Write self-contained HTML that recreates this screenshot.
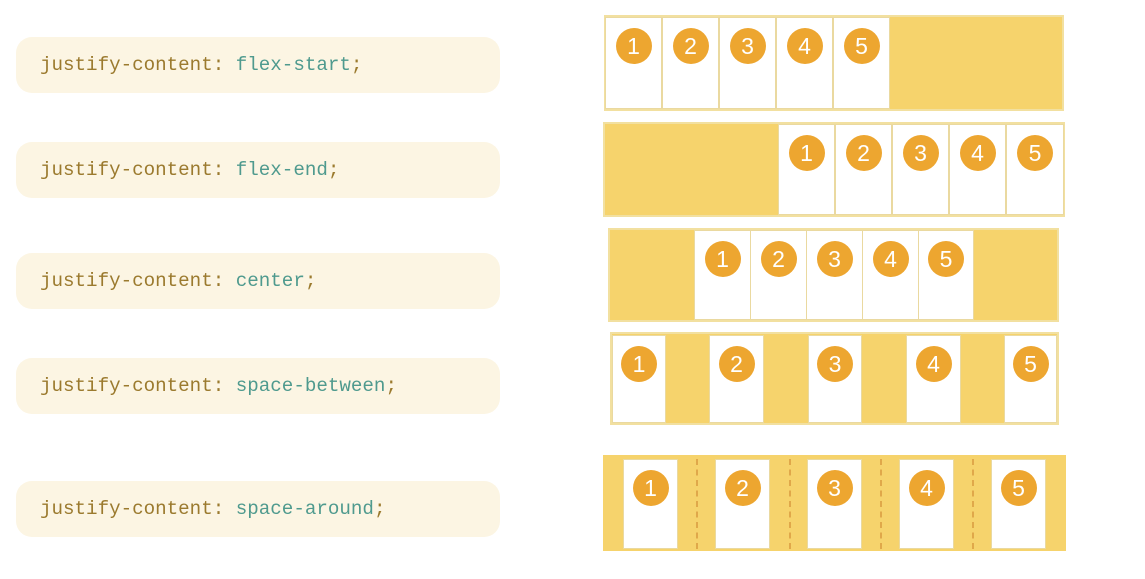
<!DOCTYPE html>
<html><head><style>
body{margin:0;width:1145px;height:579px;background:#fff;position:relative;overflow:hidden;font-family:"Liberation Sans",sans-serif}
.lb{position:absolute;left:16px;width:484px;height:56px;background:#fcf5e3;border-radius:16px}
.lb span{position:absolute;left:24px;top:17px;font-family:"Liberation Mono",monospace;font-size:19.2px;color:#9b7a2e;white-space:pre}
.lb b{font-weight:normal;color:#4f9a8e}
.c{position:absolute;background:#f6d36c;border:2px solid #f2e0a0;box-sizing:border-box}
.i{position:absolute;background:#fff;border:1.5px solid #ead9a0;box-sizing:border-box}
.i i{position:absolute;left:50%;top:10px;margin-left:-18px;width:36px;height:36px;border-radius:50%;background:#eda630;color:#fff;font-style:normal;font-size:23px;text-align:center;line-height:36px}
.d{position:absolute;width:0;border-left:2px dashed #e0a84a}
</style></head><body>
<div class="lb" style="top:37px"><span>justify-content: <b>flex-start</b>;</span></div>
<div class="lb" style="top:142px"><span>justify-content: <b>flex-end</b>;</span></div>
<div class="lb" style="top:253px"><span>justify-content: <b>center</b>;</span></div>
<div class="lb" style="top:358px"><span>justify-content: <b>space-between</b>;</span></div>
<div class="lb" style="top:481px"><span>justify-content: <b>space-around</b>;</span></div>

<div class="c" style="left:604px;top:15px;width:460px;height:96px"></div>
<div class="i" style="left:605px;top:17px;width:57px;height:92px"><i>1</i></div>
<div class="i" style="left:662px;top:17px;width:57px;height:92px"><i>2</i></div>
<div class="i" style="left:719px;top:17px;width:57px;height:92px"><i>3</i></div>
<div class="i" style="left:776px;top:17px;width:57px;height:92px"><i>4</i></div>
<div class="i" style="left:833px;top:17px;width:57px;height:92px"><i>5</i></div>

<div class="c" style="left:603px;top:122px;width:462px;height:95px"></div>
<div class="i" style="left:778px;top:124px;width:57px;height:91px"><i>1</i></div>
<div class="i" style="left:835px;top:124px;width:57px;height:91px"><i>2</i></div>
<div class="i" style="left:892px;top:124px;width:57px;height:91px"><i>3</i></div>
<div class="i" style="left:949px;top:124px;width:57px;height:91px"><i>4</i></div>
<div class="i" style="left:1006px;top:124px;width:58px;height:91px"><i>5</i></div>

<div class="c" style="left:608px;top:228px;width:451px;height:94px"></div>
<div class="i" style="left:694px;top:230px;width:57px;height:90px"><i>1</i></div>
<div class="i" style="left:750px;top:230px;width:57px;height:90px"><i>2</i></div>
<div class="i" style="left:806px;top:230px;width:57px;height:90px"><i>3</i></div>
<div class="i" style="left:862px;top:230px;width:57px;height:90px"><i>4</i></div>
<div class="i" style="left:918px;top:230px;width:56px;height:90px"><i>5</i></div>

<div class="c" style="left:610px;top:332px;width:449px;height:93px"></div>
<div class="i" style="left:612px;top:335px;width:54px;height:88px"><i>1</i></div>
<div class="i" style="left:709px;top:335px;width:55px;height:88px"><i>2</i></div>
<div class="i" style="left:808px;top:335px;width:54px;height:88px"><i>3</i></div>
<div class="i" style="left:906px;top:335px;width:55px;height:88px"><i>4</i></div>
<div class="i" style="left:1004px;top:335px;width:53px;height:88px"><i>5</i></div>

<div class="c" style="left:603px;top:455px;width:463px;height:96px;border:none"></div>
<div class="d" style="left:696px;top:459px;height:90px"></div>
<div class="d" style="left:789px;top:459px;height:90px"></div>
<div class="d" style="left:880px;top:459px;height:90px"></div>
<div class="d" style="left:972px;top:459px;height:90px"></div>
<div class="i" style="left:623px;top:459px;width:55px;height:90px"><i>1</i></div>
<div class="i" style="left:715px;top:459px;width:55px;height:90px"><i>2</i></div>
<div class="i" style="left:807px;top:459px;width:55px;height:90px"><i>3</i></div>
<div class="i" style="left:899px;top:459px;width:55px;height:90px"><i>4</i></div>
<div class="i" style="left:991px;top:459px;width:55px;height:90px"><i>5</i></div>
</body></html>
